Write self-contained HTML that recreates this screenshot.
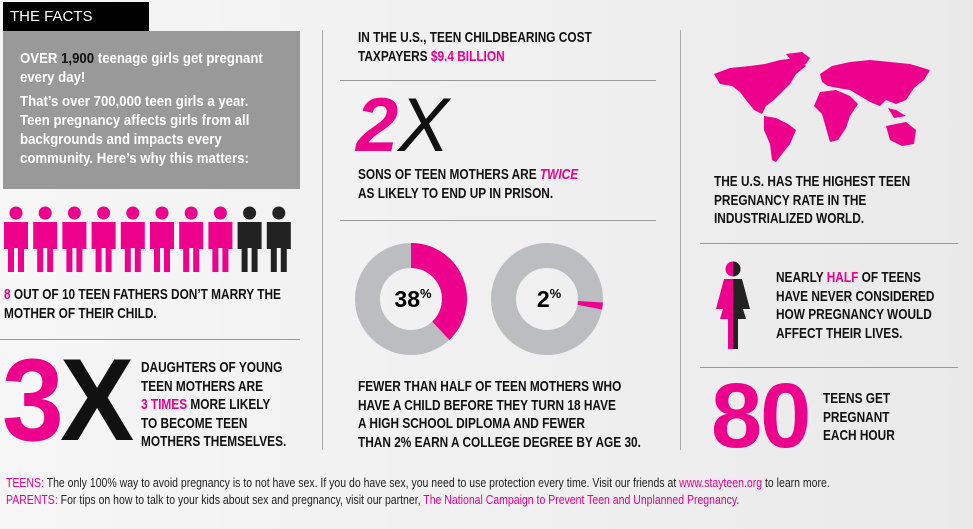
<!DOCTYPE html>
<html><head><meta charset="utf-8">
<style>
*{margin:0;padding:0;box-sizing:border-box}
body{width:973px;height:529px;overflow:hidden;background:linear-gradient(90deg,#f6f6f6,#efefef 60%,#e9e9e9);font-family:"Liberation Sans",sans-serif;position:relative;color:#111}
.a{position:absolute}
.t{font-weight:bold;font-size:15px;line-height:18.5px;text-transform:uppercase;white-space:nowrap;transform:scaleX(0.79);transform-origin:0 0}
.p{color:#ec008c}
.hl{background:#999;position:absolute;height:1px}
.vl{background:#aaa;position:absolute;width:1px}
</style></head><body>
<div class="a" style="left:3px;top:2px;width:146px;height:29px;background:#000;color:#fff;font-size:15px;line-height:29px;padding-left:7px">THE FACTS</div>
<div class="a" style="left:3px;top:31px;width:297px;height:158px;background:#999;color:#fff;padding:18px 0 0 17px;font-weight:bold;font-size:15px;line-height:19px">
<div style="white-space:nowrap;transform:scaleX(0.88);transform-origin:0 0">
<div>OVER <span style="color:#111">1,900</span> teenage girls get pregnant<br>every day!</div>
<div style="margin-top:5px">That’s over 700,000 teen girls a year.<br>Teen pregnancy affects girls from all<br>backgrounds and impacts every<br>community. Here’s why this matters:</div>
</div></div>
<svg class="a" style="left:0;top:205px" width="300" height="70" id="men"></svg>
<div class="a t" style="left:4px;top:286px"><span class="p">8</span> OUT OF 10 TEEN FATHERS DON’T MARRY THE<br>MOTHER OF THEIR CHILD.</div>
<div class="hl" style="left:0;top:339px;width:300px"></div>
<div class="a" style="left:2px;top:341px;font-weight:bold;font-size:117px;line-height:117px;letter-spacing:-4px;transform:scaleX(0.95);transform-origin:0 0;white-space:nowrap"><span class="p">3</span>X</div>
<div class="a t" style="left:141px;top:359px">DAUGHTERS OF YOUNG<br>TEEN MOTHERS ARE<br><span class="p">3 TIMES</span> MORE LIKELY<br>TO BECOME TEEN<br>MOTHERS THEMSELVES.</div>

<div class="vl" style="left:322px;top:30px;height:420px"></div>
<div class="vl" style="left:680px;top:30px;height:420px"></div>

<div class="a t" style="left:358px;top:29px">IN THE U.S., TEEN CHILDBEARING COST<br>TAXPAYERS <span class="p">$9.4 BILLION</span></div>
<div class="hl" style="left:340px;top:80px;width:316px"></div>
<div class="a" style="left:356px;top:88px;font-size:76px;line-height:76px;font-style:italic"><span class="p" style="font-weight:bold">2</span><span style="font-weight:normal">X</span></div>
<div class="a t" style="left:358px;top:166px">SONS OF TEEN MOTHERS ARE <i class="p">TWICE</i><br>AS LIKELY TO END UP IN PRISON.</div>
<div class="hl" style="left:340px;top:220px;width:316px"></div>
<svg class="a" style="left:340px;top:236px" width="320" height="130" id="donuts"></svg>
<div class="a t" style="left:358px;top:378px">FEWER THAN HALF OF TEEN MOTHERS WHO<br>HAVE A CHILD BEFORE THEY TURN 18 HAVE<br>A HIGH SCHOOL DIPLOMA AND FEWER<br>THAN 2% EARN A COLLEGE DEGREE BY AGE 30.</div>

<svg class="a" style="left:710px;top:44px" width="230" height="120" viewBox="0 0 230 120">
<g fill="#ec008c">
<path d="M4,30 L20,24 L40,22 L55,20 L70,16 L88,14 L96,22 L86,30 L80,40 L72,48 L64,56 L56,62 L52,70 L44,66 L36,56 L30,48 L22,42 L10,40 Z"/>
<path d="M76,10 L92,8 L100,14 L96,20 L86,22 Z"/>
<path d="M54,72 L66,74 L78,80 L86,86 L80,100 L72,110 L66,118 L62,116 L60,100 L54,86 Z"/>
<path d="M110,30 L122,22 L140,18 L160,16 L180,18 L200,20 L220,26 L214,36 L204,44 L196,56 L186,60 L176,56 L170,62 L160,58 L150,52 L140,46 L128,44 L118,42 L112,38 Z"/>
<path d="M110,48 L126,46 L140,52 L148,60 L140,72 L136,84 L128,96 L120,98 L116,84 L112,70 L104,62 Z"/>
<path d="M176,82 L196,78 L206,86 L204,100 L192,102 L180,96 Z"/>
<path d="M178,64 L186,66 L196,72 L184,74 Z"/>
</g></svg>
<div class="a t" style="left:714px;top:173px">THE U.S. HAS THE HIGHEST TEEN<br>PREGNANCY RATE IN THE<br>INDUSTRIALIZED WORLD.</div>
<div class="hl" style="left:700px;top:243px;width:258px"></div>
<svg class="a" style="left:714px;top:261px" width="40" height="90">
<circle cx="19" cy="8" r="7.5" fill="#ec008c"/><path d="M19,0.5 A7.5,7.5 0 0 1 19,15.5Z" fill="#222"/>
<path d="M19,18 L10,18 L2,48 L9,48 L6,58 L14,58 L14,88 L19,88Z" fill="#ec008c"/>
<path d="M19,18 L28,18 L36,48 L29,48 L32,58 L24,58 L24,88 L19,88Z" fill="#222"/>
</svg>
<div class="a t" style="left:776px;top:269px">NEARLY <span class="p">HALF</span> OF TEENS<br>HAVE NEVER CONSIDERED<br>HOW PREGNANCY WOULD<br>AFFECT THEIR LIVES.</div>
<div class="hl" style="left:700px;top:367px;width:258px"></div>
<div class="a p" style="left:711px;top:370px;font-weight:bold;font-size:92px;line-height:92px;letter-spacing:-2px">80</div>
<div class="a t" style="left:823px;top:390px">TEENS GET<br>PREGNANT<br>EACH HOUR</div>

<div class="a" style="left:6px;top:475px;font-size:12.5px;line-height:17px;color:#222;white-space:nowrap;transform:scaleX(0.84);transform-origin:0 0">
<div><span class="p">TEENS:</span> The only 100% way to avoid pregnancy is to not have sex. If you do have sex, you need to use protection every time. Visit our friends at <span class="p">www.stayteen.org</span> to learn more.</div>
<div><span class="p">PARENTS:</span> For tips on how to talk to your kids about sex and pregnancy, visit our partner, <span class="p">The National Campaign to Prevent Teen and Unplanned Pregnancy</span>.</div>
</div>
<script>
const NS="http://www.w3.org/2000/svg";
// fathers data
const totalFathers=10;
const unmarriedFathers=8;
// donut data
const donutLabels=["38","2"];
const donutValues=[38,2];
const donutStarts=[0,26];

const men=document.getElementById('men');
for(let i=0;i<totalFathers;i++){
  const g=document.createElementNS(NS,'g');
  
  
  const x=4+i*29.2;
  const c=i<unmarriedFathers?'#ec008c':'#222';
  g.setAttribute('fill',c);
  g.innerHTML=`<circle cx="${x+12}" cy="8" r="6.5"/><path d="M${x},17 h24 v27 h-4 v23 h-6 v-24 h-4 v24 h-6 v-23 h-4z"/>`;
  men.appendChild(g);
}
const dn=document.getElementById('donuts');
function pt(cx,cy,r,f){const a=f*2*Math.PI-Math.PI/2;return [cx+r*Math.cos(a),cy+r*Math.sin(a)];}
donutValues.forEach((v,i)=>{
  const cx=71+i*136,cy=63,R=56,r=31,w=R-r,m=(R+r)/2;
  const bg=document.createElementNS(NS,'circle');
  
  
  bg.setAttribute('cx',cx);bg.setAttribute('cy',cy);bg.setAttribute('r',m);
  bg.setAttribute('fill','none');bg.setAttribute('stroke','#bcbdc0');bg.setAttribute('stroke-width',w);
  dn.appendChild(bg);
  const s=donutStarts[i]/100,e=(donutStarts[i]+v)/100;
  const [x1,y1]=pt(cx,cy,m,s),[x2,y2]=pt(cx,cy,m,e);
  const p=document.createElementNS(NS,'path');
  
  
  p.setAttribute('d',`M${x1},${y1} A${m},${m} 0 ${v>50?1:0} 1 ${x2},${y2}`);
  p.setAttribute('fill','none');p.setAttribute('stroke','#ec008c');p.setAttribute('stroke-width',w);
  dn.appendChild(p);
  const t=document.createElementNS(NS,'text');
  
  
  t.setAttribute('x',cx+2);t.setAttribute('y',cy+8);t.setAttribute('text-anchor','middle');
  t.setAttribute('font-family','Liberation Sans, sans-serif');t.setAttribute('font-weight','bold');t.setAttribute('font-size','23');
  t.innerHTML=donutLabels[i]+'<tspan font-size="13" dy="-9">%</tspan>';
  dn.appendChild(t);
});
</script>
</body></html>
